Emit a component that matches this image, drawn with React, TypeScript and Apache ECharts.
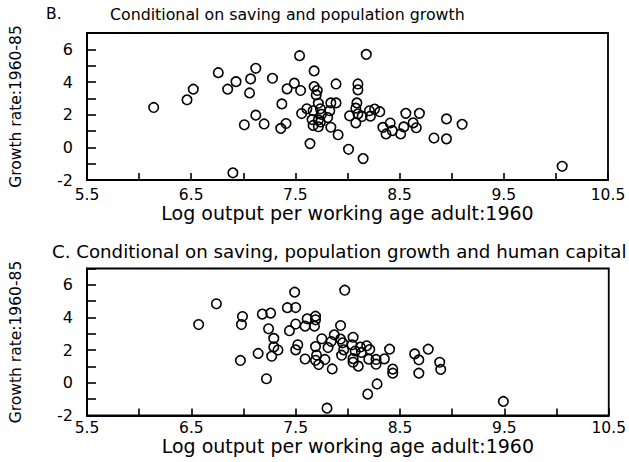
import React, { useEffect, useRef } from "react";
import * as echarts from "echarts";

// Panel B: conditional on saving and population growth  [log output 1960, growth 1960-85]
const panelB: number[][] = [
  [6.14, 2.44], [6.46, 2.91], [6.52, 3.56], [6.76, 4.57], [6.85, 3.56], [6.93, 4.02],
  [6.90, -1.56], [7.01, 1.38], [7.06, 3.33], [7.07, 4.19], [7.12, 4.84], [7.12, 1.97],
  [7.20, 1.43], [7.28, 4.23], [7.36, 1.16], [7.37, 2.66], [7.41, 1.46], [7.42, 3.58],
  [7.49, 3.93], [7.54, 5.61], [7.55, 3.48], [7.56, 2.07], [7.61, 2.36], [7.64, 0.23],
  [7.68, 4.68], [7.68, 3.72], [7.71, 3.48], [7.70, 3.21], [7.72, 2.70], [7.67, 2.24],
  [7.74, 2.36], [7.75, 2.02], [7.66, 1.70], [7.72, 1.68], [7.67, 1.34], [7.72, 1.26],
  [7.74, 1.55], [7.81, 1.82], [7.83, 2.24], [7.84, 2.72], [7.89, 2.72], [7.89, 3.88],
  [7.84, 1.23], [7.91, 0.77], [8.01, -0.12], [8.02, 1.93], [8.10, 2.05], [8.14, 1.89],
  [8.08, 2.40], [8.09, 2.72], [8.08, 1.50], [8.10, 3.88], [8.10, 3.52], [8.18, 5.69],
  [8.15, -0.69], [8.21, 2.24], [8.26, 2.34], [8.31, 2.18], [8.22, 1.91], [8.34, 1.22],
  [8.41, 1.49], [8.37, 0.82], [8.43, 1.02], [8.51, 0.82], [8.54, 1.25], [8.56, 2.08],
  [8.63, 1.50], [8.66, 1.20], [8.69, 2.08], [8.83, 0.57], [8.95, 1.74], [8.95, 0.52],
  [9.10, 1.41], [10.06, -1.16],
];

// Panel C: conditional on saving, population growth and human capital
const panelC: number[][] = [
  [6.57, 3.57], [6.74, 4.84], [6.97, 1.37], [6.98, 3.57], [6.99, 4.06], [7.14, 1.80],
  [7.18, 4.21], [7.26, 4.27], [7.22, 0.25], [7.24, 3.31], [7.29, 2.72], [7.29, 2.20],
  [7.33, 2.01], [7.27, 1.63], [7.42, 4.60], [7.50, 4.61], [7.49, 5.55], [7.44, 3.19],
  [7.50, 3.60], [7.52, 2.33], [7.50, 2.02], [7.59, 1.46], [7.59, 3.47], [7.61, 3.92],
  [7.69, 4.08], [7.69, 3.86], [7.68, 3.47], [7.69, 2.22], [7.70, 1.70], [7.69, 1.38],
  [7.72, 1.12], [7.78, 1.43], [7.75, 2.70], [7.81, 2.16], [7.85, 0.85], [7.80, -1.55],
  [7.87, 2.94], [7.93, 3.51], [7.97, 5.67], [7.95, 2.45], [7.96, 2.02], [7.94, 1.69],
  [7.93, 2.68], [7.84, 2.53], [8.05, 2.79], [8.04, 2.33], [8.07, 1.95], [8.12, 2.19],
  [8.18, 2.27], [8.21, 2.04], [8.13, 1.86], [8.05, 1.48], [8.05, 1.26], [8.10, 1.02],
  [8.20, 1.45], [8.27, 1.43], [8.27, 1.14], [8.35, 1.47], [8.40, 2.06], [8.28, -0.07],
  [8.19, -0.69], [8.43, 0.84], [8.43, 0.59], [8.64, 1.77], [8.68, 1.41], [8.68, 0.59],
  [8.77, 2.06], [8.88, 1.26], [8.89, 0.82], [9.49, -1.14],
];

const xTickLabels = ["5.5", "6.5", "7.5", "8.5", "9.5", "10.5"];
const yTickLabels = ["-2", "0", "2", "4", "6"];

const titleB = "Conditional on saving and population growth";
const titleC = "C. Conditional on saving, population growth and human capital";
const xName = "Log output per working age adult:1960";
const yName = "Growth rate:1960-85";

const FONT = "'DejaVu Sans', sans-serif";

export default function App() {
  const ref = useRef<HTMLDivElement>(null);
  useEffect(() => {
    if (!ref.current) return;
    const chart = echarts.init(ref.current, null, { renderer: "svg" });
    const axisLine = { show: true, onZero: false, lineStyle: { color: "#000", width: 1.8 } };
    const mkX = (gridIndex: number, labelMargin: number, nameGap: number) => ({
      type: "value",
      gridIndex,
      min: 5.5,
      max: 10.5,
      interval: 0.5,
      name: xName,
      nameLocation: "middle",
      nameGap,
      nameTextStyle: { fontFamily: FONT, fontSize: 19, color: "#000", verticalAlign: "top", lineHeight: 19 },
      axisLine,
      axisTick: { show: true, inside: true, length: 7, lineStyle: { color: "#000", width: 1.6 } },
      axisLabel: {
        fontFamily: FONT,
        fontSize: 15.5,
        lineHeight: 16,
        color: "#000",
        margin: labelMargin,
        formatter: (v: number) => {
          const s = v.toFixed(1);
          return xTickLabels.includes(s) ? s : "";
        },
      },
      splitLine: { show: false },
    });
    const mkY = (gridIndex: number) => ({
      type: "value",
      gridIndex,
      min: -2,
      max: 7,
      interval: 1,
      name: yName,
      nameLocation: "middle",
      nameRotate: 90,
      nameGap: 63,
      nameTextStyle: { fontFamily: FONT, fontSize: 15.5, color: "#000" },
      axisLine,
      axisTick: { show: true, inside: true, length: 9, lineStyle: { color: "#000", width: 1.6 } },
      axisLabel: {
        fontFamily: FONT,
        fontSize: 16,
        color: "#000",
        margin: 14,
        formatter: (v: number) => {
          const s = String(Math.round(v));
          return yTickLabels.includes(s) ? s : "";
        },
      },
      splitLine: { show: false },
    });
    const series = (data: number[][], i: number) => ({
      type: "scatter",
      xAxisIndex: i,
      yAxisIndex: i,
      data,
      symbol: "circle",
      symbolSize: 9.5,
      itemStyle: { color: "rgba(255,255,255,0)", borderColor: "#000", borderWidth: 1.6, opacity: 1 },
      emphasis: { disabled: true },
    });
    chart.setOption({
      animation: false,
      backgroundColor: "#fff",
      title: [
        { text: "B.", left: 41, top: 1, textStyle: { fontFamily: FONT, fontSize: 15.5, fontWeight: "normal", color: "#000" } },
        { text: titleB, left: 105, top: 1, textStyle: { fontFamily: FONT, fontSize: 15.8, fontWeight: "normal", color: "#000" } },
        { text: titleC, left: 47, top: 237, textStyle: { fontFamily: FONT, fontSize: 18.2, fontWeight: "normal", color: "#000" } },
      ],
      grid: [
        { left: 86, right: 21, top: 33, height: 147, show: true, borderColor: "#000", borderWidth: 1.8, backgroundColor: "transparent" },
        { left: 87, right: 19, top: 268.5, height: 147, show: true, borderColor: "#000", borderWidth: 1.8, backgroundColor: "transparent" },
      ],
      xAxis: [mkX(0, 7, 23), mkX(1, 4, 20)],
      yAxis: [mkY(0), mkY(1)],
      series: [series(panelB, 0), series(panelC, 1)],
    });
    return () => chart.dispose();
  }, []);
  return <div ref={ref} style={{ position: "fixed", left: 0, top: 0, width: 629, height: 462 }} />;
}
